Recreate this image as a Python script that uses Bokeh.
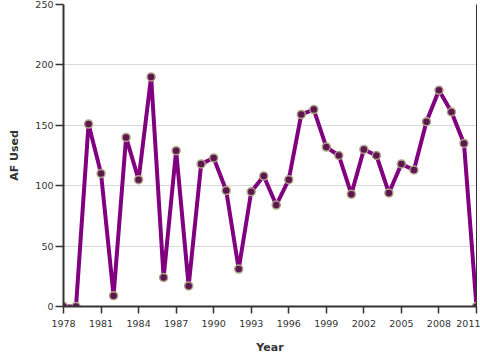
from bokeh.plotting import figure
from bokeh.models import Range1d, FixedTicker, LinearAxis, ColumnDataSource
from bokeh.embed import file_html
from bokeh.resources import INLINE

years = list(range(1978, 2012))
af_used = [0, 0, 151, 110, 9, 140, 105, 190, 24, 129, 17, 118, 123, 96, 31, 95,
           108, 84, 105, 159, 163, 132, 125, 93, 130, 125, 94, 118, 113, 153,
           179, 161, 135, 0]
x_ticks = list(range(1978, 2012, 3))
y_ticks = [0, 50, 100, 150, 200, 250]

src = ColumnDataSource(dict(year=years, af=af_used))

p = figure(frame_width=413, frame_height=302, output_backend="svg", toolbar_location=None,
           x_range=Range1d(years[0], years[-1]), y_range=Range1d(0, 250),
           min_border_left=63, min_border_right=4, min_border_top=4, min_border_bottom=50)

p.line("year", "af", source=src, line_color="#800080", line_width=4)
p.scatter("year", "af", source=src, size=8, fill_color="#5e1650",
          line_color="#aba283", line_width=1.5)

p.outline_line_color = None
p.xgrid.grid_line_color = None
p.ygrid.grid_line_color = "#d8d8d8"
p.ygrid.grid_line_width = 1

for ax in (p.xaxis[0], p.yaxis[0]):
    ax.axis_line_color = "#333333"
    ax.axis_line_width = 2
    ax.major_tick_line_color = "#333333"
    ax.major_tick_line_width = 1.5
    ax.major_tick_in = 0
    ax.major_tick_out = 7
    ax.minor_tick_line_color = None
    ax.major_label_text_font = "DejaVu Sans"
    ax.major_label_text_font_size = "9.5px"
    ax.major_label_text_color = "#333333"
    ax.axis_label_text_font = "DejaVu Sans"
    ax.axis_label_text_font_size = "11px"
    ax.axis_label_text_font_style = "bold"
    ax.axis_label_text_color = "#333333"

p.xaxis[0].ticker = FixedTicker(ticks=x_ticks)
p.yaxis[0].ticker = FixedTicker(ticks=y_ticks)
p.xaxis[0].axis_label = "Year"
p.yaxis[0].axis_label = "AF Used"
p.xaxis[0].major_label_standoff = 6
p.xaxis[0].axis_label_standoff = 11
p.yaxis[0].major_tick_out = 8
p.yaxis[0].major_label_standoff = 2
p.yaxis[0].axis_label_standoff = 11

right = LinearAxis(ticker=FixedTicker(ticks=[]), axis_line_color="#333333",
                   axis_line_width=1, major_tick_line_color=None,
                   minor_tick_line_color=None, major_tick_out=0, major_tick_in=0,
                   major_label_standoff=0, axis_label_standoff=0)
p.add_layout(right, "right")

open("out.html", "w").write(file_html(p, INLINE))
